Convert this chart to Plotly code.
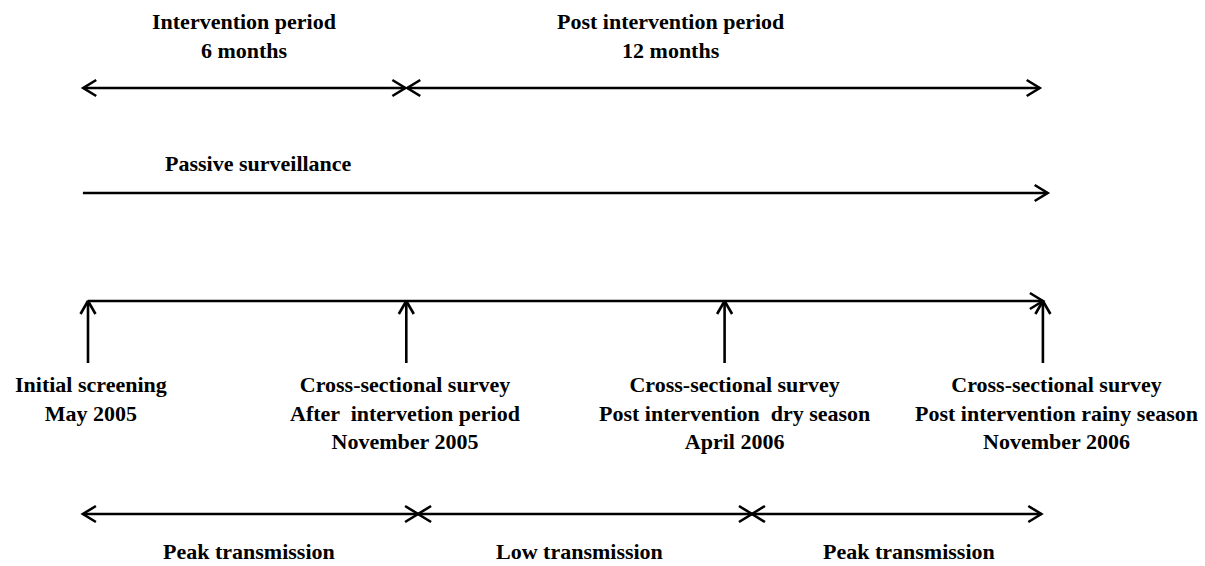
import plotly.graph_objects as go

# ---------------- data ----------------
event_pos = [0, 1, 2, 3]  # equally spaced survey points on the timeline
event_labels = [
    "Initial screening<br>May 2005",
    "Cross-sectional survey<br>After  intervetion period<br>November 2005",
    "Cross-sectional survey<br>Post intervention  dry season<br>April 2006",
    "Cross-sectional survey<br>Post intervention rainy season<br>November 2006",
]

period_names = ["Intervention period<br>6 months", "Post intervention period<br>12 months"]
period_start = [-0.015, 1.003]
period_end = [0.997, 2.99]

passive_name = "Passive surveillance"
passive_span = [-0.016, 3.015]

trans_names = ["Peak transmission", "Low transmission", "Peak transmission"]
trans_bounds = [-0.016, 1.037, 2.086, 2.995]

# ---------------- layout constants ----------------
W, H = 1205, 566
PX = 318.3          # pixels per timeline step
X0 = 88             # pixel position of the first event
xr = [-X0 / PX, (W - X0) / PX]

Y_PERIOD_TXT = 36
Y_PERIOD = 88
Y_PASSIVE_TXT = 163
Y_PASSIVE = 193
Y_TIMELINE = 301
Y_STUB = 363
Y_LABELS_TOP = 370
Y_TRANS = 514
Y_TRANS_TXT = 551

period_label_x = [0.49, 1.83]
passive_label_x = 0.535
event_label_shift = [3, -1, 10, 14]
trans_label_x = [0.505, 1.545, 2.58]

CH_DX = 13 / PX   # chevron length (x units)
CH_DY = 8         # chevron half-width (px)

xs, ys = [], []

def seg(x0, y0, x1, y1):
    xs.extend([x0, x1, None]); ys.extend([y0, y1, None])

def chevron(tip, y, d):
    xs.extend([tip - d * CH_DX, tip, tip - d * CH_DX, None])
    ys.extend([y - CH_DY, y, y + CH_DY, None])

def up_chevron(x, y):
    xs.extend([x - 7.5 / PX, x, x + 7.5 / PX, None])
    ys.extend([y + 13, y, y + 13, None])

# period arrows (double headed)
for s, e in zip(period_start, period_end):
    seg(s, Y_PERIOD, e, Y_PERIOD)
    chevron(s, Y_PERIOD, -1)
    chevron(e, Y_PERIOD, 1)

# passive surveillance arrow
seg(passive_span[0], Y_PASSIVE, passive_span[1], Y_PASSIVE)
chevron(passive_span[1], Y_PASSIVE, 1)

# timeline
seg(event_pos[0], Y_TIMELINE, event_pos[-1], Y_TIMELINE)
chevron(event_pos[-1], Y_TIMELINE, 1)
for p in event_pos:
    seg(p, Y_STUB, p, Y_TIMELINE)
    up_chevron(p, Y_TIMELINE)

# transmission arrows
for i in range(len(trans_names)):
    s, e = trans_bounds[i], trans_bounds[i + 1]
    seg(s, Y_TRANS, e, Y_TRANS)
    chevron(s, Y_TRANS, -1)
    chevron(e, Y_TRANS, 1)

fig = go.Figure()
fig.add_trace(go.Scatter(x=xs, y=ys, mode="lines",
                         line=dict(color="black", width=2.6),
                         hoverinfo="skip", showlegend=False))

font = dict(family="Liberation Serif, Times New Roman, serif", size=22,
            color="black", weight="bold")

ann = []
for name, x in zip(period_names, period_label_x):
    ann.append(dict(x=x, y=Y_PERIOD_TXT, text=name, yanchor="middle"))
ann.append(dict(x=passive_label_x, y=Y_PASSIVE_TXT, text=passive_name, yanchor="middle"))
for p, lab, sh in zip(event_pos, event_labels, event_label_shift):
    ann.append(dict(x=p, y=Y_LABELS_TOP, text=lab, xshift=sh, yanchor="top"))
for name, x in zip(trans_names, trans_label_x):
    ann.append(dict(x=x, y=Y_TRANS_TXT, text=name, yanchor="middle"))
for a in ann:
    a.update(xref="x", yref="y", showarrow=False, font=font,
             xanchor="center", align="center")

fig.update_layout(
    width=W, height=H,
    margin=dict(l=0, r=0, t=0, b=0),
    paper_bgcolor="white", plot_bgcolor="white",
    xaxis=dict(range=xr, visible=False, fixedrange=True),
    yaxis=dict(range=[H, 0], visible=False, fixedrange=True),
    annotations=ann,
    showlegend=False,
)

fig.write_html(
    "out.html",
    config={"displayModeBar": False},
    post_script="document.body.style.margin='0';document.body.style.overflow='hidden';",
)
